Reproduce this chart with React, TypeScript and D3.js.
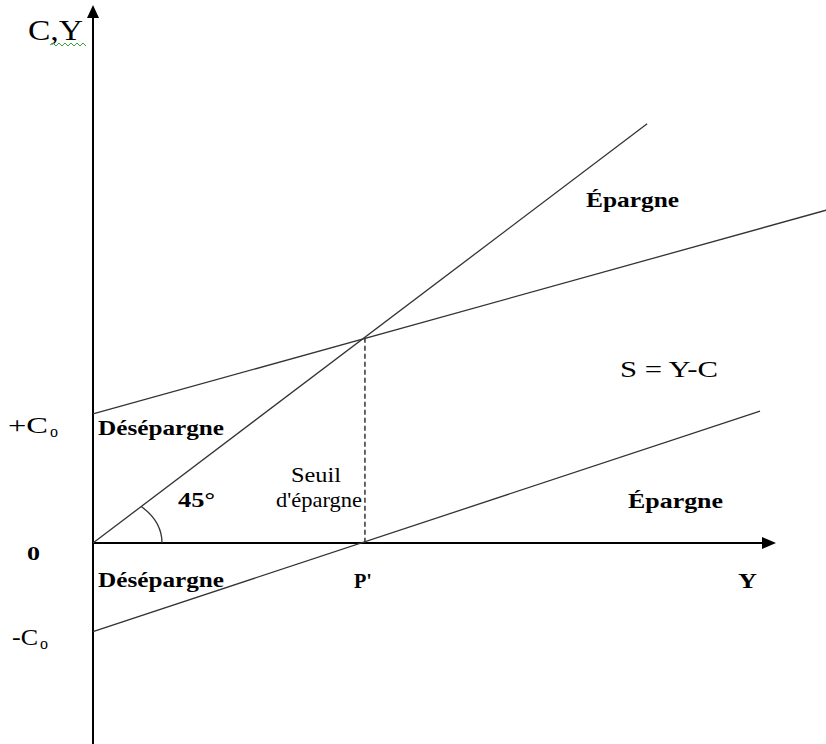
import React from "react";
import * as d3 from "d3";

// Data (in abstract units; 0,0 = origin)
const diagX = [0, 75.6];
const diagY = [0, 57.2];
const consX = [0, 100];
const consY = [17.6, 45.4];
const savX = [0, 91];
const savY = [-12.1, 18.0];
const thresholdX = 37.1;
const thresholdY = 28.0;
const yTicks = ["+C", "0", "-C"];

const W = 826;
const H = 744;

export default function App() {
  const x = d3.scaleLinear().domain([0, 100]).range([93, 826]);
  const y = d3.scaleLinear().domain([0, 100]).range([543, 543 - 733]);
  const line = d3
    .line<[number, number]>()
    .x((d) => x(d[0]))
    .y((d) => y(d[1]));
  const pts = (xs: number[], ys: number[]) =>
    xs.map((v, i) => [v, ys[i]] as [number, number]);

  const ox = x(0);
  const oy = y(0);
  // angle arc (slightly elliptical as in the reference)
  const rx = 69;
  const ry = 51;
  const ang = Math.atan2(y(0) - y(diagY[1]), x(diagX[1]) - x(0));
  const dirx = Math.cos(ang);
  const diry = Math.sin(ang);
  const k = 1 / Math.sqrt((dirx / rx) ** 2 + (diry / ry) ** 2);
  const ex = ox + dirx * k;
  const ey = oy - diry * k;
  const arcPath = `M${ox + rx},${oy} A${rx},${ry} 0 0 0 ${ex},${ey}`;

  // squiggle
  let sq = "M50,45";
  for (let i = 0; i < 12; i++) {
    sq += ` L${50 + (i + 1) * 3},${i % 2 === 0 ? 43 : 46}`;
  }

  const serif = "'Liberation Serif', 'Times New Roman', serif";
  const stroke = "#333";
  const B = (props: { x: number; y: number; w: number; s?: number; children: React.ReactNode; anchor?: string }) => (
    <text
      x={props.x}
      y={props.y}
      fontSize={props.s ?? 21}
      fontWeight="bold"
      fill="#000"
      textLength={props.w}
      lengthAdjust="spacingAndGlyphs"
    >
      {props.children}
    </text>
  );
  const R = (props: { x: number; y: number; w: number; s?: number; children: React.ReactNode }) => (
    <text
      x={props.x}
      y={props.y}
      fontSize={props.s ?? 22}
      fill="#000"
      textLength={props.w}
      lengthAdjust="spacingAndGlyphs"
    >
      {props.children}
    </text>
  );

  return (
    <svg
      width={W}
      height={H}
      style={{ position: "absolute", left: 0, top: 0, background: "#fff" }}
      fontFamily={serif}
    >
      <rect width={W} height={H} fill="#fff" />
      {/* axes */}
      <line x1={ox} y1={H} x2={ox} y2={16} stroke="#000" strokeWidth={2} />
      <path d={`M${ox},5 L${ox - 6},18 L${ox + 6},18 Z`} fill="#000" />
      <line x1={ox} y1={oy} x2={764} y2={oy} stroke="#000" strokeWidth={2} />
      <path d={`M776,${oy} L762,${oy - 6} L762,${oy + 6} Z`} fill="#000" />

      {/* lines */}
      <path d={line(pts(diagX, diagY)) || ""} stroke={stroke} strokeWidth={1.3} fill="none" />
      <path d={line(pts(consX, consY)) || ""} stroke={stroke} strokeWidth={1.3} fill="none" />
      <path d={line(pts(savX, savY)) || ""} stroke={stroke} strokeWidth={1.3} fill="none" />
      <line
        x1={x(thresholdX)}
        y1={y(thresholdY)}
        x2={x(thresholdX)}
        y2={oy}
        stroke={stroke}
        strokeWidth={1.5}
        strokeDasharray="5,3"
      />
      <path d={arcPath} stroke={stroke} strokeWidth={1.3} fill="none" />

      {/* labels */}
      <R x={28} y={40} w={55} s={30}>C,Y</R>
      <path d={sq} stroke="#3aa03a" strokeWidth={1} fill="none" />

      <R x={8} y={433} w={40} s={23}>{yTicks[0]}</R>
      <text x={50} y={437} fontSize={16} fill="#000">o</text>
      <B x={27} y={560} w={13} s={19}>{yTicks[1]}</B>
      <R x={12} y={645} w={26} s={23}>{yTicks[2]}</R>
      <text x={40} y={649} fontSize={16} fill="#000">o</text>

      <B x={98} y={435} w={126}>Désépargne</B>
      <B x={98} y={587} w={126}>Désépargne</B>
      <B x={178} y={507} w={37} s={20}>45°</B>
      <R x={291} y={482} w={50} s={21}>Seuil</R>
      <R x={276} y={507} w={86} s={21}>d'épargne</R>
      <B x={354} y={588} w={18} s={20}>P'</B>
      <B x={738} y={588} w={19} s={20}>Y</B>
      <B x={586} y={207} w={93}>Épargne</B>
      <B x={628} y={508} w={95}>Épargne</B>
      <R x={620} y={377} w={98} s={24}>S = Y-C</R>
    </svg>
  );
}
